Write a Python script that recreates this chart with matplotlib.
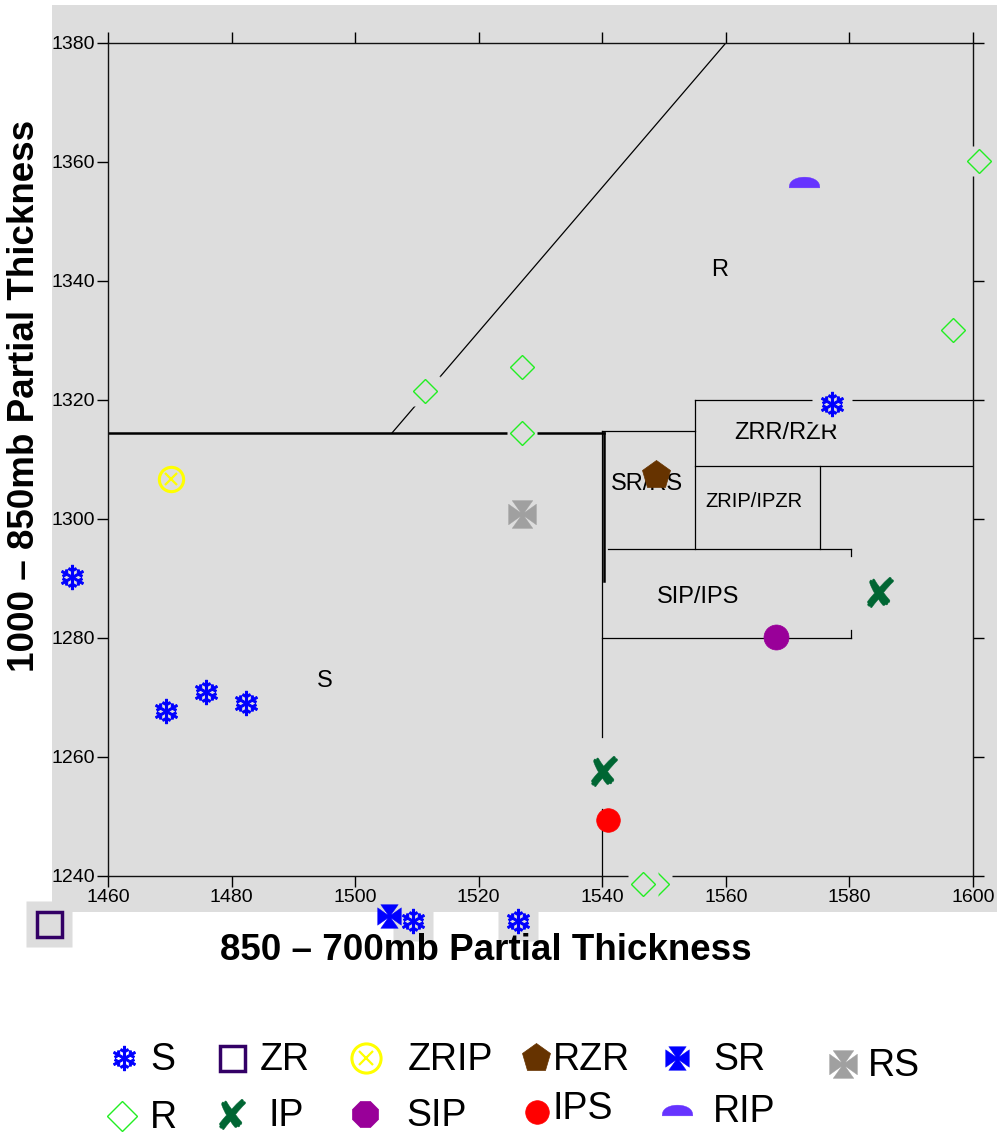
import matplotlib
matplotlib.use("Agg")
import matplotlib.pyplot as plt
import numpy as np
from matplotlib.path import Path
from matplotlib.patches import Rectangle

plt.rcParams['font.family'] = ['Liberation Sans', 'DejaVu Sans']

# observations: (850-700mb thickness, 1000-850mb thickness) per precip type
s_x = [1454.2, 1469.4, 1475.9, 1482.3, 1577.2, 1509.3, 1526.4]
s_y = [1290.3, 1267.7, 1270.9, 1269.1, 1319.3, 1232.4, 1232.4]
r_x = [1511.3, 1527.0, 1527.0, 1596.7, 1600.9, 1548.8, 1546.6]
r_y = [1321.5, 1325.5, 1314.5, 1331.8, 1360.2, 1238.7, 1238.7]
zr_x, zr_y = [1450.5], [1231.9]
zrip_x, zrip_y = [1470.2], [1306.7]
rzr_x, rzr_y = [1548.7], [1307.4]
sr_x, sr_y = [1505.5], [1233.3]
rs_x, rs_y = [1527.0], [1300.8]
ip_x, ip_y = [1540.3, 1584.9], [1257.6, 1287.7]
sip_x, sip_y = [1568.1], [1280.2]
ips_x, ips_y = [1540.9], [1249.4]
rip_x, rip_y = [1572.6], [1356.7]

# region boundaries (thick and thin segments)
thick_segs = [
    [(1460, 1314.5), (1540.3, 1314.5)],
    [(1540.3, 1314.5), (1540.3, 1289.5)],
]
thin_segs = [
    [(1506, 1314.5), (1560, 1380)],
    [(1540, 1314.8), (1555, 1314.8)],
    [(1555, 1320), (1600, 1320)],
    [(1555, 1320), (1555, 1295)],
    [(1555, 1308.9), (1600, 1308.9)],
    [(1575.2, 1308.9), (1575.2, 1295)],
    [(1541, 1295), (1580.2, 1295)],
    [(1580.2, 1295), (1580.2, 1293.7)],
    [(1580.2, 1281.3), (1580.2, 1280)],
    [(1540, 1280), (1580.2, 1280)],
    [(1540, 1314.8), (1540, 1263.4)],
    [(1540, 1251.3), (1540, 1240)],
]
region_labels = ['R', 'S', 'SR/RS', 'ZRR/RZR', 'ZRIP/IPZR', 'SIP/IPS']
region_x = [1559, 1495.1, 1547.2, 1569.7, 1564.5, 1555.5]
region_y = [1341.8, 1272.8, 1305.9, 1314.5, 1303.0, 1286.9]
region_fs = [17, 17, 17, 17, 14.5, 17]

bg = '#dddddd'


def pattee():
    # cross pattee: four flared arms around a small centre square
    arm = np.array([(-0.1, 0.1), (0.1, 0.1), (0.74, 1.0), (-0.74, 1.0)])
    verts, codes = [], []
    for k in range(4):
        t = np.pi / 2 * k
        rot = np.array([[np.cos(t), -np.sin(t)], [np.sin(t), np.cos(t)]])
        pts = arm @ rot.T
        verts += list(pts) + [pts[0]]
        codes += [Path.MOVETO] + [Path.LINETO] * 3 + [Path.CLOSEPOLY]
    sq = [(-0.11, -0.11), (0.11, -0.11), (0.11, 0.11), (-0.11, 0.11), (-0.11, -0.11)]
    verts += sq
    codes += [Path.MOVETO] + [Path.LINETO] * 3 + [Path.CLOSEPOLY]
    return Path(verts, codes)


def dome():
    t = np.linspace(0, np.pi, 40)
    pts = np.column_stack([np.cos(t), 0.7 * np.sin(t) ** 0.8 - 0.35])
    pts = np.vstack([pts, pts[:1]])
    return Path(pts, closed=True)


cross = pattee()
half = dome()

# marker styles: marker, size (pt), face, edge, edge width, background box (pt)
styles = {
    'S':    dict(marker='$❄$', ms=17.5, mfc='#0000ff', mec='#0000ff', mew=0.8, box=29.5),
    'SR':   dict(marker=cross, ms=17, mfc='#0000ff', mec='#0000ff', mew=0.3, box=0),
    'R':    dict(marker='D', ms=12.5, mfc='none', mec='#22ee22', mew=1.0, box=21),
    'ZR':   dict(marker='s', ms=18, mfc='none', mec='#330066', mew=2.5, box=33),
    'ZRIP': dict(marker='o', ms=17.5, mfc='none', mec='#ffff00', mew=2.2, box=0),
    'RZR':  dict(marker='p', ms=21.5, mfc='#663300', mec='#663300', mew=0.5, box=0),
    'RS':   dict(marker=cross, ms=20, mfc='#a0a0a0', mec='#a0a0a0', mew=0.3, box=0),
    'IP':   dict(marker='$✘$', ms=22, mfc='#006633', mec='#006633', mew=0.3, box=0),
    'SIP':  dict(marker='o', ms=18, mfc='#990099', mec='#990099', mew=0.5, box=0),
    'IPS':  dict(marker='o', ms=17, mfc='#ff0000', mec='#ff0000', mew=0.5, box=0),
    'RIP':  dict(marker=half, ms=22, mfc='#6633ff', mec='#6633ff', mew=0.3, box=0),
}
series = [('S', s_x, s_y), ('SR', sr_x, sr_y), ('R', r_x, r_y),
          ('ZR', zr_x, zr_y), ('ZRIP', zrip_x, zrip_y), ('RZR', rzr_x, rzr_y),
          ('RS', rs_x, rs_y), ('IP', ip_x, ip_y), ('SIP', sip_x, sip_y),
          ('IPS', ips_x, ips_y), ('RIP', rip_x, rip_y)]

fig = plt.figure(figsize=(10, 11.4), dpi=100)
fig.patches.append(Rectangle((0.052, 0.2), 0.945, 0.7956, transform=fig.transFigure,
                             facecolor=bg, edgecolor='none', zorder=-10))
ax = fig.add_axes([0.108, 0.2316, 0.865, 0.7307])
ax.set_facecolor(bg)
ax.set_xlim(1460, 1600)
ax.set_ylim(1240, 1380)
ax.set_xticks(np.arange(1460, 1601, 20))
ax.set_yticks(np.arange(1240, 1381, 20))
ax.tick_params(direction='out', length=8, width=1, top=True, right=True,
               labelsize=14, pad=1.5)
for sp in ax.spines.values():
    sp.set_linewidth(1)
    sp.set_color('#111111')

for seg in thick_segs:
    (x0, y0), (x1, y1) = seg
    ax.plot([x0, x1], [y0, y1], color='black', lw=1.8, zorder=2)
for seg in thin_segs:
    (x0, y0), (x1, y1) = seg
    ax.plot([x0, x1], [y0, y1], color='black', lw=0.9, zorder=2)

for lab, x, y, fs in zip(region_labels, region_x, region_y, region_fs):
    ax.text(x, y, lab, fontsize=fs, ha='center', va='center', zorder=2.5)

z = 3
for name, xs, ys in series:
    st = styles[name]
    for x, y in zip(xs, ys):
        if st['box'] > 0:
            ax.plot(x, y, marker='s', ms=st['box'], color=bg, mec='none',
                    ls='none', clip_on=False, zorder=z)
        ax.plot(x, y, marker=st['marker'], ms=st['ms'], mfc=st['mfc'], mec=st['mec'],
                mew=st['mew'], ls='none', clip_on=False, zorder=z + 1)
        if name == 'ZRIP':
            ax.plot(x, y, marker='x', ms=8.5, mec='#ffff00', mew=1.6, ls='none',
                    clip_on=False, zorder=z + 1)
        z += 2

fig.text(0.486, 0.166, '850 – 700mb Partial Thickness', fontsize=26.5,
         fontweight='bold', ha='center', va='center')
fig.text(0.025, 0.653, '1000 – 850mb Partial Thickness', fontsize=26.5,
         fontweight='bold', ha='center', va='center', rotation=90)

# key along the bottom, laid out in pixel units
lg = fig.add_axes([0, 0, 1, 1], facecolor='none')
lg.set_xlim(0, 1000)
lg.set_ylim(1140, 0)
lg.axis('off')
key = [('S', 'S', 124, 1058, 150), ('ZR', 'ZR', 232, 1058, 260),
       ('ZRIP', 'ZRIP', 366, 1058, 408), ('RZR', 'RZR', 536, 1058, 553),
       ('SR', 'SR', 677, 1058, 713), ('RS', 'RS', 843, 1064, 868),
       ('R', 'R', 122, 1116, 150), ('IP', 'IP', 232, 1114, 268),
       ('SIP', 'SIP', 365, 1114, 406), ('IPS', 'IPS', 537, 1112, 553),
       ('RIP', 'RIP', 677, 1110, 713)]
for name, lab, mx, my, tx in key:
    st = styles[name]
    ms = st['ms']
    mk = st['marker']
    if name == 'R':
        ms = 15
    if name == 'SIP':
        mk = '8'
        ms = 20
    if name == 'ZRIP':
        ms = 21
    lg.plot(mx, my, marker=mk, ms=ms, mfc=st['mfc'], mec=st['mec'],
            mew=st['mew'], ls='none')
    if name == 'ZRIP':
        lg.plot(mx, my, marker='x', ms=10, mec='#ffff00', mew=1.6, ls='none')
    ty = my + 2 if name != 'IPS' else my - 3
    lg.text(tx, ty, lab, fontsize=27, ha='left', va='center')

fig.savefig('out.png', dpi=100)
